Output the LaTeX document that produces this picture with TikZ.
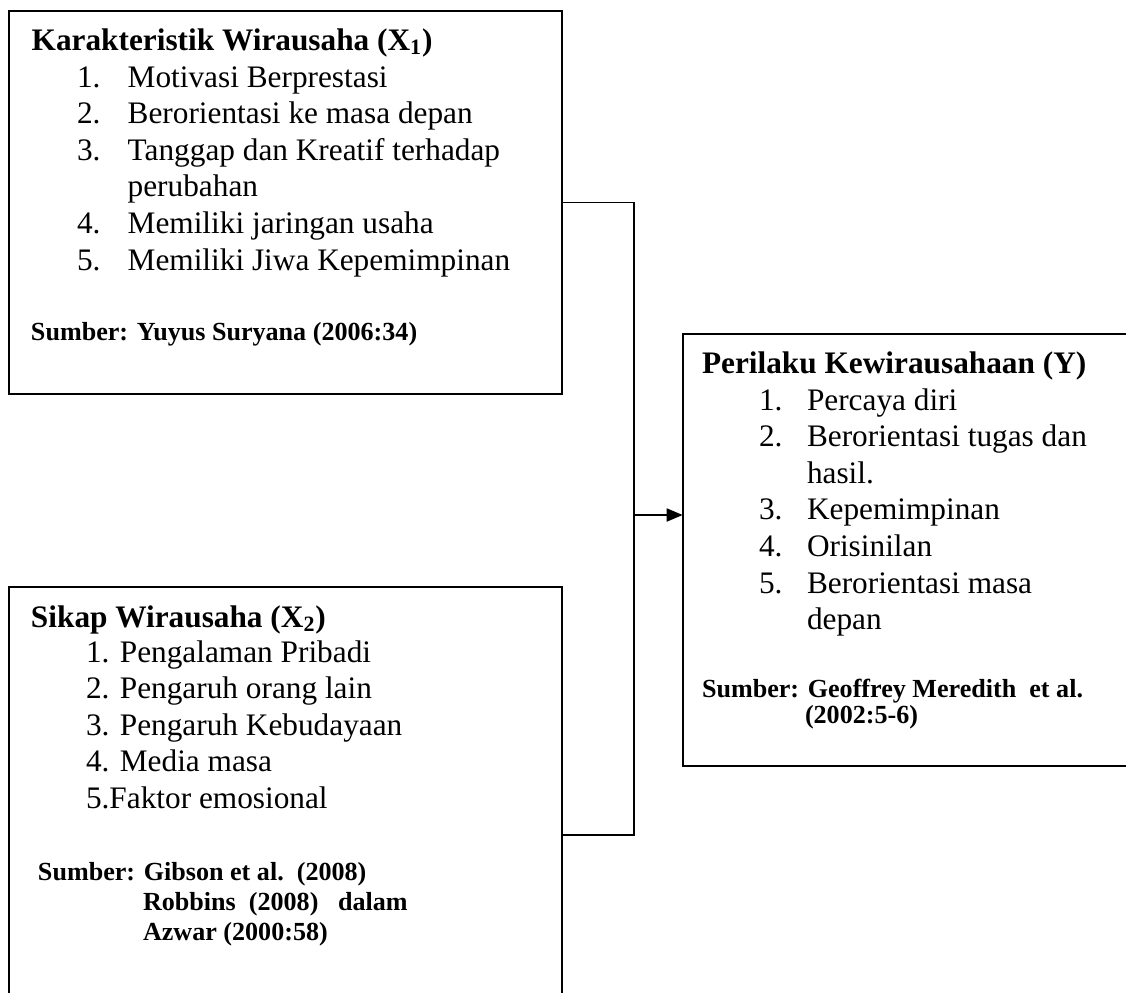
\documentclass[tikz,border=0pt]{standalone}
\usepackage{fontspec}
\setmainfont{Liberation Serif}
\usetikzlibrary{arrows.meta}
\tikzset{
  box/.style={draw, line width=0.9pt, inner sep=0pt, outer sep=0pt, anchor=north west},
  txt/.style={anchor=base west, inner sep=0pt, outer sep=0pt, font=\fontsize{15.65}{18}\selectfont},
  ttl/.style={anchor=base west, inner sep=0pt, outer sep=0pt, font=\fontsize{15.65}{18}\selectfont\bfseries},
  src/.style={anchor=base west, inner sep=0pt, outer sep=0pt, font=\fontsize{13.05}{15}\selectfont\bfseries},
  conn/.style={line width=0.9pt},
}
\begin{document}
\begin{tikzpicture}[x=0.5pt,y=-0.5pt]
\useasboundingbox (0,0) rectangle (1126,992);
\clip (0,0) rectangle (1126,992);

% boxes
\node[box, minimum width=276.35pt, minimum height=191.5pt] (b1) at (9.3,11) {};
\node[box, minimum width=276.35pt, minimum height=248.3pt] (b2) at (9.3,586.7) {};
\node[box, minimum width=226.5pt, minimum height=216pt] (b3) at (682.7,334) {};

% box 1 text
\node[ttl] (t1) at (31.7,50) {Karakteristik Wirausaha (X\textsubscript{1})};
\node[txt] (n11) at (77,87) {1.};   \node[txt] (i11) at (127.7,87) {Motivasi Berprestasi};
\node[txt] (n12) at (77,123.6) {2.}; \node[txt] (i12) at (127.7,123.6) {Berorientasi ke masa depan};
\node[txt] (n13) at (77,160.2) {3.}; \node[txt] (i13) at (127.7,160.2) {Tanggap dan Kreatif terhadap};
\node[txt] (i13b) at (127.7,196.8) {perubahan};
\node[txt] (n14) at (77,233.4) {4.}; \node[txt] (i14) at (127.7,233.4) {Memiliki jaringan usaha};
\node[txt] (n15) at (77,270) {5.};   \node[txt] (i15) at (127.7,270) {Memiliki Jiwa Kepemimpinan};
\node[src] (s1) at (31,340) {Sumber: Yuyus Suryana (2006:34)};

% box 2 text
\node[ttl] (t2) at (31,627) {Sikap Wirausaha (X\textsubscript{2})};
\node[txt] (i21) at (86,662) {1. Pengalaman Pribadi};
\node[txt] (i22) at (86,698.6) {2. Pengaruh orang lain};
\node[txt] (i23) at (86,735.2) {3. Pengaruh Kebudayaan};
\node[txt] (i24) at (86,771.8) {4. Media masa};
\node[txt] (i25) at (86,808.4) {5.Faktor emosional};
\node[src] (s2a) at (38,880) {Sumber: Gibson et al.\ \ (2008)};
\node[src] (s2b) at (143,910) {Robbins\ \ (2008)\ \ \ dalam};
\node[src] (s2c) at (143,940) {Azwar (2000:58)};

% box 3 text
\node[ttl] (t3) at (702,373) {Perilaku Kewirausahaan (Y)};
\node[txt] (n31) at (759,410) {1.};   \node[txt] (i31) at (807,410) {Percaya diri};
\node[txt] (n32) at (759,446.6) {2.}; \node[txt] (i32) at (807,446.6) {Berorientasi tugas dan};
\node[txt] (i32b) at (807,483.2) {hasil.};
\node[txt] (n33) at (759,519.8) {3.}; \node[txt] (i33) at (807,519.8) {Kepemimpinan};
\node[txt] (n34) at (759,556.4) {4.}; \node[txt] (i34) at (807,556.4) {Orisinilan};
\node[txt] (n35) at (759,593) {5.};   \node[txt] (i35) at (807,593) {Berorientasi masa};
\node[txt] (i35b) at (807,629.6) {depan};
\node[src] (s3a) at (702,697) {Sumber: Geoffrey Meredith\ \ et al.};
\node[src] (s3b) at (805,723) {(2002:5-6)};

% connectors
\coordinate (jx) at (634,0);
\coordinate (ja) at (634,515);
\draw[conn] (b1.east) -| (jx |- b2.east) -- (b2.east);
\draw[conn, -{Triangle[length=8pt,width=6.5pt]}] (ja) -- (ja -| b3.west);
\end{tikzpicture}
\end{document}
